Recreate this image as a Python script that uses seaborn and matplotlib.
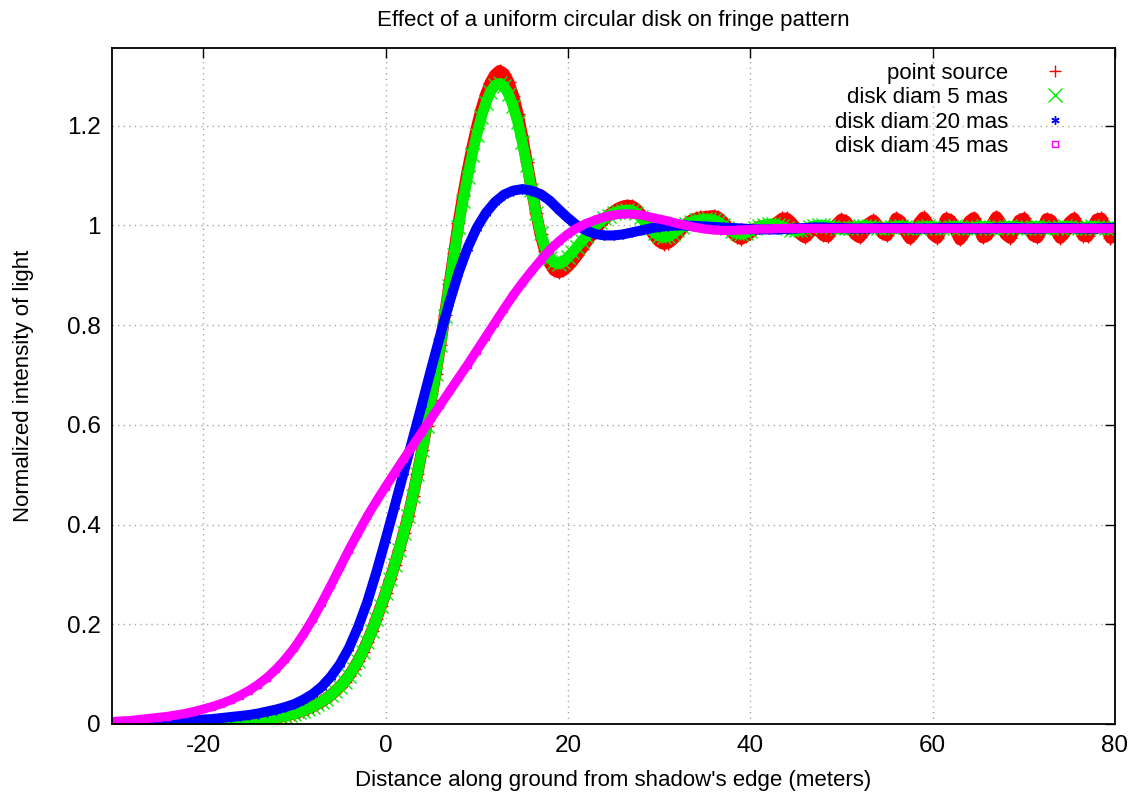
import numpy as np
import seaborn as sns
import matplotlib.pyplot as plt
from matplotlib.lines import Line2D
from matplotlib.ticker import FormatStrFormatter

# Distance along ground (m). Oscillating curves are read every 0.5 m, smooth ones every 1 m
x_fine = np.arange(-30, 80.01, 0.5)
x_coarse = np.arange(-30, 80.01, 1.0)

point_source = [
    0.001, 0.001, 0.001, 0.001, 0.001, 0.001, 0.002, 0.002, 0.002, 0.002,
    0.002, 0.002, 0.002, 0.002, 0.002, 0.003, 0.003, 0.003, 0.003, 0.003,
    0.003, 0.004, 0.004, 0.004, 0.005, 0.005, 0.005, 0.006, 0.006, 0.007,
    0.007, 0.008, 0.009, 0.010, 0.011, 0.012, 0.013, 0.015, 0.017, 0.019,
    0.021, 0.024, 0.027, 0.031, 0.035, 0.040, 0.045, 0.051, 0.058, 0.066,
    0.075, 0.085, 0.097, 0.111, 0.127, 0.145, 0.165, 0.187, 0.211, 0.236,
    0.262, 0.290, 0.319, 0.350, 0.383, 0.418, 0.458, 0.502, 0.549, 0.598,
    0.650, 0.703, 0.760, 0.820, 0.882, 0.945, 1.005, 1.060, 1.110, 1.155,
    1.196, 1.232, 1.262, 1.286, 1.302, 1.310, 1.304, 1.287, 1.260, 1.224,
    1.178, 1.127, 1.075, 1.025, 0.982, 0.948, 0.924, 0.910, 0.906, 0.910,
    0.918, 0.928, 0.940, 0.953, 0.966, 0.979, 0.991, 1.002, 1.012, 1.021,
    1.028, 1.034, 1.038, 1.040, 1.039, 1.033, 1.022, 1.008, 0.993, 0.979,
    0.968, 0.963, 0.965, 0.972, 0.982, 0.993, 1.003, 1.010, 1.014, 1.016,
    1.017, 1.018, 1.019, 1.016, 1.008, 0.997, 0.986, 0.977, 0.973, 0.978,
    0.985, 0.993, 0.998, 0.999, 0.998, 1.000, 1.007, 1.014, 1.014, 1.006,
    0.995, 0.982, 0.976, 0.985, 0.995, 0.990, 0.980, 0.978, 0.990, 1.003,
    1.012, 1.008, 0.995, 0.982, 0.976, 0.988, 1.004, 1.010, 1.000, 0.984,
    0.980, 0.995, 1.014, 1.008, 0.988, 0.974, 0.985, 1.005, 1.016, 1.003,
    0.982, 0.975, 0.992, 1.014, 1.010, 0.990, 0.972, 0.985, 1.008, 1.015,
    0.998, 0.976, 0.980, 1.002, 1.017, 1.004, 0.982, 0.975, 0.992, 1.010,
    1.014, 0.998, 0.980, 0.976, 0.992, 1.013, 1.010, 0.990, 0.975, 0.985,
    1.006, 1.014, 0.998, 0.979, 0.978, 0.995, 1.012, 1.014, 0.995, 0.975,
    0.980,
]

disk_5mas = [
    0.001, 0.001, 0.001, 0.001, 0.001, 0.001, 0.002, 0.002, 0.002, 0.002,
    0.002, 0.002, 0.002, 0.002, 0.002, 0.003, 0.003, 0.003, 0.003, 0.003,
    0.003, 0.004, 0.004, 0.004, 0.005, 0.005, 0.005, 0.006, 0.006, 0.007,
    0.007, 0.008, 0.009, 0.010, 0.011, 0.012, 0.013, 0.015, 0.017, 0.019,
    0.021, 0.024, 0.027, 0.031, 0.035, 0.040, 0.045, 0.051, 0.058, 0.066,
    0.075, 0.085, 0.097, 0.111, 0.127, 0.145, 0.165, 0.187, 0.211, 0.236,
    0.262, 0.290, 0.319, 0.350, 0.383, 0.418, 0.458, 0.502, 0.549, 0.598,
    0.650, 0.703, 0.760, 0.819, 0.879, 0.940, 0.997, 1.050, 1.098, 1.142,
    1.182, 1.217, 1.246, 1.268, 1.281, 1.285, 1.279, 1.263, 1.239, 1.207,
    1.167, 1.121, 1.072, 1.025, 0.985, 0.954, 0.935, 0.926, 0.923, 0.927,
    0.936, 0.946, 0.957, 0.968, 0.978, 0.989, 0.998, 1.007, 1.014, 1.020,
    1.025, 1.028, 1.030, 1.031, 1.030, 1.025, 1.016, 1.005, 0.994, 0.985,
    0.979, 0.977, 0.978, 0.983, 0.990, 0.997, 1.003, 1.007, 1.010, 1.011,
    1.012, 1.012, 1.011, 1.007, 1.001, 0.994, 0.988, 0.984, 0.983, 0.985,
    0.989, 0.994, 0.998, 1.001, 1.002, 1.002, 1.001, 0.998, 0.994, 0.991,
    0.990, 0.991, 0.993, 0.996, 0.999, 1.000, 1.000, 0.999, 0.997, 0.995,
    0.994, 0.994, 0.995, 0.997, 0.998, 0.999, 0.998, 0.996, 0.995, 0.994,
    0.995, 0.996, 0.998, 0.998, 0.997, 0.995, 0.994, 0.995, 0.997, 0.998,
    0.997, 0.995, 0.994, 0.995, 0.997, 0.998, 0.997, 0.995, 0.994, 0.995,
    0.997, 0.998, 0.997, 0.995, 0.994, 0.995, 0.997, 0.998, 0.997, 0.995,
    0.994, 0.995, 0.997, 0.998, 0.997, 0.995, 0.994, 0.995, 0.997, 0.998,
    0.997, 0.995, 0.994, 0.995, 0.997, 0.998, 0.997, 0.995, 0.994, 0.995,
    0.996,
]

disk_20mas = [
    0.002, 0.002, 0.003, 0.003, 0.004, 0.005, 0.005, 0.006, 0.007, 0.008,
    0.009, 0.010, 0.012, 0.014, 0.016, 0.018, 0.021, 0.025, 0.029, 0.034,
    0.040, 0.049, 0.060, 0.075, 0.095, 0.120, 0.153, 0.195, 0.245, 0.305,
    0.370, 0.437, 0.505, 0.573, 0.642, 0.712, 0.780, 0.845, 0.905, 0.955,
    0.995, 1.025, 1.047, 1.062, 1.070, 1.073, 1.070, 1.063, 1.050, 1.032,
    1.015, 1.000, 0.990, 0.983, 0.980, 0.980, 0.982, 0.986, 0.990, 0.994,
    0.997, 0.999, 1.000, 1.000, 0.999, 0.998, 0.997, 0.996, 0.995, 0.994,
    0.993, 0.992, 0.992, 0.992, 0.993, 0.994, 0.995, 0.996, 0.996, 0.995,
    0.995, 0.994, 0.994, 0.994, 0.995, 0.995, 0.995, 0.995, 0.994, 0.994,
    0.994, 0.995, 0.995, 0.995, 0.994, 0.994, 0.994, 0.995, 0.995, 0.995,
    0.994, 0.994, 0.994, 0.995, 0.995, 0.995, 0.994, 0.994, 0.994, 0.995,
    0.995,
]

disk_45mas = [
    0.005, 0.006, 0.007, 0.009, 0.011, 0.013, 0.015, 0.018, 0.021, 0.025,
    0.030, 0.035, 0.041, 0.048, 0.057, 0.067, 0.079, 0.093, 0.110, 0.130,
    0.153, 0.180, 0.210, 0.243, 0.278, 0.314, 0.350, 0.384, 0.417, 0.447,
    0.476, 0.504, 0.532, 0.559, 0.586, 0.613, 0.640, 0.667, 0.694, 0.721,
    0.749, 0.777, 0.805, 0.833, 0.860, 0.885, 0.908, 0.930, 0.951, 0.968,
    0.983, 0.995, 1.004, 1.011, 1.017, 1.021, 1.023, 1.023, 1.021, 1.017,
    1.013, 1.009, 1.004, 1.000, 0.996, 0.993, 0.991, 0.990, 0.990, 0.991,
    0.992, 0.993, 0.993, 0.994, 0.994, 0.994, 0.994, 0.994, 0.994, 0.994,
    0.994, 0.994, 0.994, 0.994, 0.994, 0.994, 0.994, 0.994, 0.994, 0.994,
    0.994, 0.994, 0.994, 0.994, 0.994, 0.994, 0.994, 0.994, 0.994, 0.994,
    0.994, 0.994, 0.994, 0.994, 0.994, 0.994, 0.994, 0.994, 0.994, 0.994,
    0.994,
]

labels = ['point source', 'disk diam 5 mas', 'disk diam 20 mas', 'disk diam 45 mas']
colors = ['#ff0000', '#00f000', '#0000ff', '#ff00ff']
markers = ['+', 'x', (6, 2, 0), 's']

sns.set_theme(style='white')
plt.rcParams['font.family'] = ['Liberation Sans', 'DejaVu Sans']
plt.rcParams['axes.unicode_minus'] = False
plt.rcParams['text.color'] = 'black'
plt.rcParams['axes.labelcolor'] = 'black'

fig = plt.figure(figsize=(11.33, 7.96), dpi=100)
ax = fig.add_axes([112 / 1133, 1 - 724 / 796, 1003 / 1133, 676 / 796])

series = [
    (x_fine, point_source, 8.5, 10),
    (x_fine, disk_5mas, 7.8, 10),
    (x_coarse, disk_20mas, 7.2, 7),
    (x_coarse, disk_45mas, 6.6, 4),
]
for (xs, ys, lw, ms), c, m in zip(series, colors, markers):
    sns.lineplot(x=xs, y=ys, color=c, linewidth=lw, marker=m, markersize=ms,
                 markeredgewidth=1, markeredgecolor=c,
                 markerfacecolor='none' if m == 's' else c,
                 ax=ax, legend=False)

ax.set_xlim(-30, 80)
ax.set_ylim(0, 1.356)
ax.set_xticks([-20, 0, 20, 40, 60, 80])
ax.set_yticks([0, 0.2, 0.4, 0.6, 0.8, 1.0, 1.2])
ax.yaxis.set_major_formatter(FormatStrFormatter('%g'))
ax.tick_params(direction='in', length=7, width=1, top=True, right=True,
               labelsize=17.5, colors='black', pad=8)
ax.grid(True, color='#a8a8a8', linestyle=(0, (1, 3)), linewidth=1)
ax.set_axisbelow(True)
for s in ax.spines.values():
    s.set_color('black')
    s.set_linewidth(1.3)

ax.set_title('Effect of a uniform circular disk on fringe pattern', fontsize=16, pad=16)
ax.set_xlabel("Distance along ground from shadow's edge (meters)", fontsize=16)
ax.set_ylabel('Normalized intensity of light', fontsize=16)
ax.xaxis.set_label_coords(0.5, -0.068)
ax.yaxis.set_label_coords(-0.078, 0.5)

handles = [Line2D([], [], color=c, marker=m, linestyle='none', markersize=ms,
                  markeredgewidth=1,
                  markerfacecolor='none' if m == 's' else c)
           for c, m, ms in zip(colors, markers, [9, 10, 6, 5])]
# gnuplot style key: labels right-aligned, symbols on the right
ax.legend(handles, labels, loc='upper right', frameon=False, fontsize=16,
          markerfirst=False, alignment='right', handletextpad=1.1,
          labelspacing=0.15, borderpad=0, borderaxespad=0,
          bbox_to_anchor=(0.962, 0.978))

fig.savefig('out.png', dpi=100)
